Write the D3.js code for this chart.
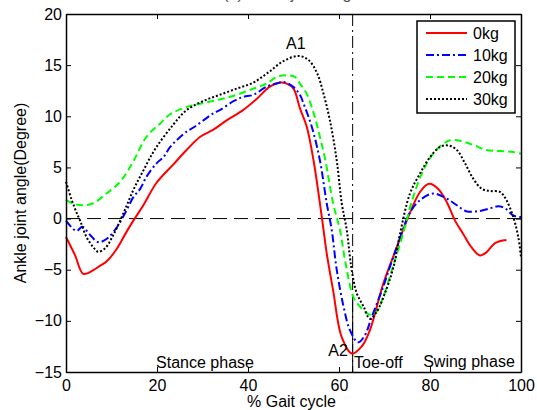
<!DOCTYPE html>
<html>
<head>
<meta charset="utf-8">
<script src="https://cdn.jsdelivr.net/npm/d3@7"></script>
<style>
  body { margin: 0; background: #fff; }
  text { font-family: "Liberation Sans", Arial, sans-serif; }
</style>
</head>
<body>
<div id="ankle_chart"></div>
<script>
// series: [gait %, angle deg]
var kg0 = [[0,-1.8],[2,-3.6],[3.8,-5.4],[6,-5.05],[7.5,-4.6],[8.9,-4.2],[11.1,-3.0],[13.3,-1.3],[14.8,-0.2],[17,1.3],[19.9,3.5],
  [23.6,5.3],[26.5,6.7],[29.5,8.0],[32.4,8.7],[35.3,9.6],[38.9,10.6],[41.9,11.7],[44.8,12.9],[47,13.3],[48.5,13.2],[50,12.7],
  [51.4,10.8],[52.9,9.0],[54.4,5.7],[55.8,1.5],[56.6,-1.1],[57.3,-3.4],[58.7,-7.0],[60.6,-11.6],[62.8,-13.2],[65,-12.5],
  [66.8,-10.9],[69.7,-6.4],[72.7,-2.8],[74.9,-0.2],[77.8,2.6],[79.8,3.4],[81.8,2.9],[83.7,1.6],[85.5,-0.2],[87.3,-1.5],
  [89.1,-2.8],[91,-3.6],[92.4,-3.3],[94.3,-2.4],[96.8,-2.1]];
var kg10 = [[0,-0.2],[2.3,-1.2],[3.6,-0.8],[5.3,-1.6],[7.1,-2.3],[8.9,-2.0],[11.1,-0.9],[13.3,0.8],[14.8,2.1],[16.3,2.9],
  [17.7,4.1],[19.9,5.4],[21.4,6.0],[22.9,7.0],[24.3,7.65],[26.5,8.5],[28,8.9],[30.2,9.6],[32.4,10.3],[33.8,10.6],[36.9,11.5],
  [39,11.9],[41.2,12.1],[44.1,12.9],[46.3,13.2],[47.8,13.35],[49.9,12.9],[51.4,12.1],[52.2,11.25],[54,9.0],[55.8,5.7],
  [57.3,1.5],[58.4,-1.1],[59.5,-5.0],[61,-8.6],[62.4,-10.9],[64.2,-12.1],[65.7,-11.4],[67.2,-9.6],[69.7,-6.7],[71.2,-4.7],
  [72.7,-2.8],[73.4,-1.9],[75.6,0.6],[77.8,1.8],[80.7,2.45],[83.7,1.95],[85.9,1.3],[88.1,0.7],[91,0.75],[93.2,1.0],[95,1.2],
  [96.5,1.0],[98.3,0.3],[100,0.15]];
var kg20 = [[0,1.8],[2,1.4],[3.8,1.3],[6,1.5],[8.9,2.45],[11.9,3.6],[14.8,5.6],[17.7,8.0],[20.7,9.3],[22.9,10.2],[26.5,10.9],
  [30.2,11.3],[33.8,11.65],[37.5,12.1],[41.2,12.7],[44.1,13.2],[46.3,13.85],[48.5,14.0],[50.3,13.85],[51.4,13.2],[52.9,12.2],
  [54.7,9.9],[55.8,8.0],[57,5.7],[58.7,1.5],[60.2,-1.1],[61.5,-4.5],[63.2,-7.7],[65,-8.8],[66.5,-9.35],[67.9,-9.3],[69.7,-7.7],
  [71.6,-5.05],[73.4,-2.5],[74.5,-0.8],[76.3,2.1],[78.5,4.7],[80.7,6.35],[82.9,7.3],[84.4,7.65],[86.6,7.6],[89.5,7.2],
  [92.4,6.7],[95.4,6.6],[98.3,6.5],[100,6.35]];
var kg30 = [[0,3.6],[1.2,1.9],[2.3,0.6],[3.1,-0.2],[4.5,-1.8],[6,-2.8],[7.1,-3.25],[8.6,-2.9],[10.4,-1.6],[12.6,0.5],[14.8,2.8],
  [17,4.7],[19.6,6.8],[23.6,9.2],[26.5,10.6],[30.2,11.5],[33.8,12.1],[37.5,12.7],[41.2,13.3],[44.5,14.3],[47.8,15.4],[51.1,15.9],
  [53.3,15.5],[55.2,14.2],[56.6,12.2],[58,9.6],[59.5,5.7],[60.6,1.5],[61.7,-1.1],[62.4,-3.75],[62.8,-5.05],[63.9,-7.3],
  [65.4,-8.6],[66.8,-9.8],[68.3,-9.1],[70.1,-7.3],[72,-4.7],[73.4,-1.5],[75.6,2.45],[77.8,4.4],[80,6.0],[82.2,7.0],[84,7.15],
  [85.9,6.7],[87.7,5.4],[89.5,3.9],[91.4,2.9],[93.2,2.7],[95.4,2.6],[96.8,1.8],[98.3,0.15],[99.4,-1.8],[100,-3.75]];

var seriesNames = ["0kg", "10kg", "20kg", "30kg"];
var seriesColours = ["#ff0000", "#0000ff", "#00ff00", "#000000"];
var seriesDashes = [null, "8,3,2,3", "7,4", "2,2"];
var xTicks = [0, 20, 40, 60, 80, 100];
var yTicks = [-15, -10, -5, 0, 5, 10, 15, 20];
var toeOff = 63;

drawAnkleChart([kg0, kg10, kg20, kg30]);

function drawAnkleChart(data) {
    var margin = {top: 14, right: 16, bottom: 38, left: 66},
        width = 537 - margin.left - margin.right,
        height = 410 - margin.top - margin.bottom;

    var svg = d3.select("#ankle_chart")
      .append("svg")
        .attr("width", 537)
        .attr("height", 410)
      .append("g")
        .attr("transform", "translate(" + margin.left + "," + margin.top + ")");

    var x = d3.scaleLinear().domain([0, 100]).range([0, width]);
    var y = d3.scaleLinear().domain([-15, 20]).range([height, 0]);

    // zero line and toe-off line
    svg.append("line")
      .attr("x1", x(0)).attr("x2", x(100))
      .attr("y1", y(0)).attr("y2", y(0))
      .attr("stroke", "black").attr("stroke-width", 1)
      .attr("stroke-dasharray", "14,7");
    svg.append("line")
      .attr("x1", x(toeOff)).attr("x2", x(toeOff))
      .attr("y1", y(20)).attr("y2", y(-15))
      .attr("stroke", "black").attr("stroke-width", 1)
      .attr("stroke-dasharray", "12,4,2,4");
    svg.append("line")
      .attr("x1", x(toeOff)).attr("x2", x(toeOff))
      .attr("y1", y(-7.5)).attr("y2", y(-15))
      .attr("stroke", "black").attr("stroke-width", 1);

    // curves
    var line = d3.line()
      .x(function (d) { return x(d[0]); })
      .y(function (d) { return y(d[1]); })
      .curve(d3.curveCatmullRom);
    for (var i = 0; i < data.length; i++) {
        svg.append("path")
          .datum(data[i])
          .attr("d", line)
          .attr("fill", "none")
          .attr("stroke", seriesColours[i])
          .attr("stroke-width", 2)
          .attr("stroke-dasharray", seriesDashes[i]);
    }

    // Add X axis
    svg.append("g")
      .attr("class", "axis")
      .attr("transform", "translate(0," + height + ")")
      .call(d3.axisBottom(x).tickValues(xTicks).tickSizeInner(-5).tickSizeOuter(0).tickPadding(8));
    svg.append("g")
      .attr("class", "axis")
      .call(d3.axisTop(x).tickValues(xTicks).tickSizeInner(-5).tickSizeOuter(0).tickFormat(""));
    // Add Y axis
    svg.append("g")
      .attr("class", "axis")
      .call(d3.axisLeft(y).tickValues(yTicks).tickSizeInner(-5).tickSizeOuter(0).tickPadding(4));
    svg.append("g")
      .attr("class", "axis")
      .attr("transform", "translate(" + width + ",0)")
      .call(d3.axisRight(y).tickValues(yTicks).tickSizeInner(-5).tickSizeOuter(0).tickFormat(""));

    svg.selectAll(".axis path").attr("stroke", "black").attr("stroke-width", 1.5);
    svg.selectAll(".axis line").attr("stroke", "black");
    svg.selectAll(".axis text")
      .attr("fill", "black")
      .style("font-size", "16px")
      .style("font-family", "'Liberation Sans', Arial, sans-serif");

    // axis titles
    svg.append("text")
      .attr("x", width / 2 - 2)
      .attr("y", height + 35)
      .attr("text-anchor", "middle")
      .style("font-size", "16px")
      .text("% Gait cycle");
    svg.append("text")
      .attr("transform", "rotate(-90)")
      .attr("x", -height / 2)
      .attr("y", -40)
      .attr("text-anchor", "middle")
      .style("font-size", "16px")
      .text("Ankle joint angle(Degree)");
    svg.append("text")
      .attr("x", width / 2)
      .attr("y", -15)
      .attr("text-anchor", "middle")
      .attr("fill", "#555")
      .style("font-size", "16px")
      .text("(a) Ankle joint angle");

    // annotations
    var notes = [
      {t: "A1", x: 50.5, y: 16.6, a: "middle"},
      {t: "A2", x: 59.8, y: -13.4, a: "middle"},
      {t: "Toe-off", x: 63.3, y: -14.6, a: "start"},
      {t: "Stance phase", x: 19.8, y: -14.6, a: "start"},
      {t: "Swing phase", x: 78.5, y: -14.5, a: "start"}
    ];
    svg.append("g")
      .selectAll("text")
      .data(notes)
      .enter()
      .append("text")
        .attr("x", function (d) { return x(d.x); })
        .attr("y", function (d) { return y(d.y); })
        .attr("text-anchor", function (d) { return d.a; })
        .style("font-size", "16px")
        .text(function (d) { return d.t; });

    // legend
    var legend = svg.append("g").attr("transform", "translate(" + (417 - margin.left) + "," + (21 - margin.top) + ")");
    legend.append("rect")
      .attr("width", 98).attr("height", 92)
      .attr("fill", "white").attr("stroke", "black").attr("stroke-width", 1.5);
    for (var j = 0; j < seriesNames.length; j++) {
        var ly = 12 + j * 22;
        legend.append("line")
          .attr("x1", 9).attr("x2", 50)
          .attr("y1", ly).attr("y2", ly)
          .attr("stroke", seriesColours[j])
          .attr("stroke-width", 2)
          .attr("stroke-dasharray", seriesDashes[j]);
        legend.append("text")
          .attr("x", 56).attr("y", ly + 6)
          .style("font-size", "16px")
          .text(seriesNames[j]);
    }
}
</script>
</body>
</html>
